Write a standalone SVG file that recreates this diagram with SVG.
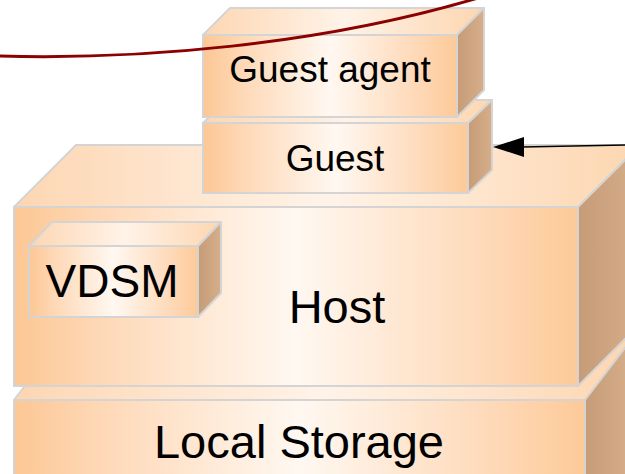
<svg xmlns="http://www.w3.org/2000/svg" width="625" height="474" viewBox="0 0 625 474">
  <defs>
    <linearGradient id="gFront" x1="0" y1="0" x2="1" y2="0">
      <stop offset="0" stop-color="#fcc794"/>
      <stop offset="0.15" stop-color="#fed8b6"/>
      <stop offset="0.5" stop-color="#fff8f1"/>
      <stop offset="0.85" stop-color="#fed8b6"/>
      <stop offset="1" stop-color="#fdca98"/>
    </linearGradient>
    <linearGradient id="gTop" x1="0" y1="0" x2="1" y2="0">
      <stop offset="0" stop-color="#fdd6b2"/>
      <stop offset="0.5" stop-color="#fff3e8"/>
      <stop offset="1" stop-color="#fdd6b0"/>
    </linearGradient>
    <linearGradient id="gSide" x1="0" y1="0" x2="1" y2="0">
      <stop offset="0" stop-color="#c59c77"/>
      <stop offset="1" stop-color="#d6ae89"/>
    </linearGradient>
    <style>
      .front{fill:url(#gFront);stroke:#d4d4d4;stroke-width:2}
      .top{fill:url(#gTop);stroke:#d4d4d4;stroke-width:2;stroke-linejoin:round}
      .side{fill:url(#gSide);stroke:#d4d4d4;stroke-width:2;stroke-linejoin:round}
      .lbl{font-family:"Liberation Sans",Arial,sans-serif;fill:#000;text-anchor:middle}
    </style>
  </defs>

  <g id="local-storage">
    <polygon class="top" points="14,400 60,340 631,340 585,400"/>
    <polygon class="side" points="585,400 631,340 631,500 585,520"/>
    <rect class="front" x="14" y="400" width="571" height="90"/>
    <text class="lbl" x="299" y="458" font-size="47">Local Storage</text>
  </g>

  <g id="host">
    <polygon class="top" points="14,207 76,145 640,145 578,207"/>
    <polygon class="side" points="578,207 640,145 640,324 578,386"/>
    <rect class="front" x="14" y="207" width="564" height="179"/>
    <text class="lbl" x="337" y="323" font-size="47">Host</text>
  </g>

  <g id="vdsm">
    <polygon class="top" points="29,246 52,222 221,222 198,246"/>
    <polygon class="side" points="198,246 221,222 221,293 198,317"/>
    <rect class="front" x="29" y="246" width="169" height="71"/>
    <text class="lbl" x="112" y="297" font-size="46" fill="#222">VDSM</text>
  </g>

  <g id="guest">
    <polygon class="top" points="203,123 227,100 492,100 468,123"/>
    <polygon class="side" points="468,123 492,100 492,170 468,193"/>
    <rect class="front" x="203" y="123" width="265" height="70"/>
    <text class="lbl" x="335" y="171" font-size="37">Guest</text>
  </g>

  <g id="guest-agent">
    <polygon class="top" points="203,35 230,8 484,8 457,35"/>
    <polygon class="side" points="457,35 484,8 484,90 457,117"/>
    <rect class="front" x="203" y="35" width="254" height="82"/>
    <text class="lbl" x="330" y="82" font-size="37">Guest agent</text>
  </g>

  <g id="connectors">
    <path d="M-2,56 C140,60 320,45 478,-2" fill="none" stroke="#8b0000" stroke-width="3"/>
    <line x1="626" y1="145" x2="522" y2="147" stroke="#000" stroke-width="1.5"/>
    <polygon points="493,147 524,137 524,157" fill="#000"/>
  </g>
</svg>
